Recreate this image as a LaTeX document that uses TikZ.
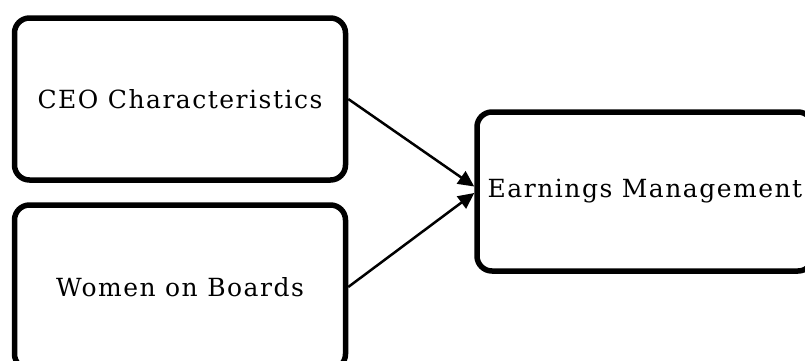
\documentclass[tikz,border=0pt]{standalone}
\usepackage{fontspec}
\setmainfont{DejaVu Serif}[LetterSpace=6]
\usepackage{tikz}
\usetikzlibrary{arrows.meta}
\usetikzlibrary{positioning}
\tikzset{
    factor/.style={
        draw,
        rectangle,
        rounded corners=15pt,
        line width=5.5pt,
        fill=white,
        minimum width=331pt,
        inner sep=0pt,
        font=\fontsize{25}{29}\selectfont
    },
    link/.style={
        draw,
        -{Triangle[length=16pt, width=15pt]},
        line width=2.5pt
    }
}

\begin{document}
\begin{tikzpicture}[x=1pt, y=-1pt]
    \useasboundingbox (0,0) rectangle (805,360);

    % Boxes
    \node[factor, minimum height=162pt] (CEO) at (180,99) {CEO Characteristics};
    \node[factor, minimum height=164pt] (WOB) at (180,287) {Women on Boards};
    \node[factor, minimum height=159pt, minimum width=336pt] (EM) at (645,191.5) {Earnings Management};

    % Links to the outcome
    \draw[link] (CEO.east) -- ([yshift=5pt]EM.west);
    \draw[link] (WOB.east) -- ([yshift=-1.5pt]EM.west);
\end{tikzpicture}
\end{document}
